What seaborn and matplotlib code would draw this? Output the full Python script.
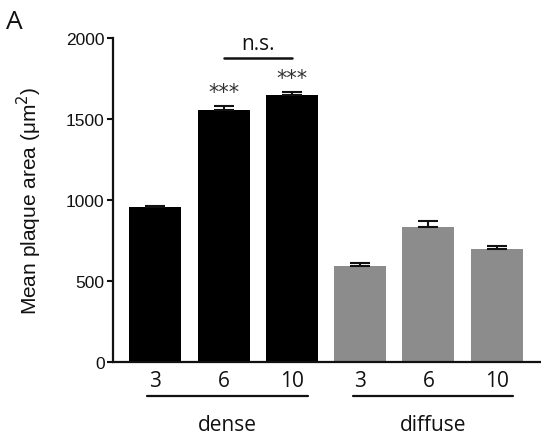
import numpy as np
import pandas as pd
import seaborn as sns
import matplotlib.pyplot as plt

# values
groups = ['dense', 'dense', 'dense', 'diffuse', 'diffuse', 'diffuse']
ages = ['3', '6', '10', '3', '6', '10']
mean_area = [955, 1558, 1648, 594, 834, 700]
sem = [9, 23, 17, 18, 34, 19]

df = pd.DataFrame({'group': groups, 'age': ages, 'area': mean_area})
df['key'] = df['group'] + ' ' + df['age']

sns.set_style('ticks')
plt.rcParams['font.family'] = ['Liberation Sans', 'DejaVu Sans']
plt.rcParams['text.color'] = '#111111'
plt.rcParams['axes.labelcolor'] = '#111111'
plt.rcParams['xtick.color'] = '#111111'
plt.rcParams['ytick.color'] = '#111111'

fig = plt.figure(figsize=(5.41, 4.39), dpi=100)
ax = fig.add_axes([0.2089, 0.1731, 0.7911, 0.738])

sns.barplot(data=df, x='key', y='area', hue='group',
            palette={'dense': '#000000', 'diffuse': '#8c8c8c'},
            width=0.76, errorbar=None, legend=False, dodge=False, ax=ax,
            edgecolor='none')

# only upper error bars
pos = np.arange(len(df))
ax.errorbar(pos, mean_area, yerr=[np.zeros(len(sem)), sem], fmt='none',
            ecolor='#111111', elinewidth=1.5, capsize=7.5, capthick=1.5)

ax.set_xlim(-0.62, 5.65)
ax.set_ylim(0, 2000)
ax.set_yticks([0, 500, 1000, 1500, 2000])
ax.set_xticks(pos)
ax.set_xticklabels(ages, fontsize=15, family='Open Sans')
ax.tick_params(axis='x', length=0, pad=6)
ax.tick_params(axis='y', length=4, width=1.5, labelsize=12.5, pad=2)
ax.set_xlabel('')
ax.set_ylabel('Mean plaque area (μm$^2$)', fontsize=15, labelpad=16)

sns.despine(ax=ax)
for side in ['left', 'bottom']:
    ax.spines[side].set_linewidth(1.6)
    ax.spines[side].set_color('#111111')

# group underlines and labels
for g, (x0, x1) in zip(['dense', 'diffuse'], [(-0.12, 2.23), (2.89, 5.24)]):
    ax.plot([x0, x1], [-210, -210], color='#111111', lw=1.6, clip_on=False)
    ax.text((x0 + x1) / 2, -385, g, ha='center', va='center',
            fontsize=15, family='Open Sans')

# significance marks
tops = np.array(mean_area) + np.array(sem)
for i in [1, 2]:
    ax.text(pos[i], tops[i] + 25, '***', ha='center', va='bottom',
            fontsize=15, family='DejaVu Sans', color='#333333')
ax.plot([pos[1], pos[2]], [1876, 1876], color='#111111', lw=1.8, clip_on=False)
ax.text((pos[1] + pos[2]) / 2, 1930, 'n.s.', ha='center', va='baseline',
        fontsize=15, family='Open Sans')

fig.text(0.012, 0.978, 'A', ha='left', va='top', fontsize=19, family='Open Sans')

fig.savefig('out.png', dpi=100)
